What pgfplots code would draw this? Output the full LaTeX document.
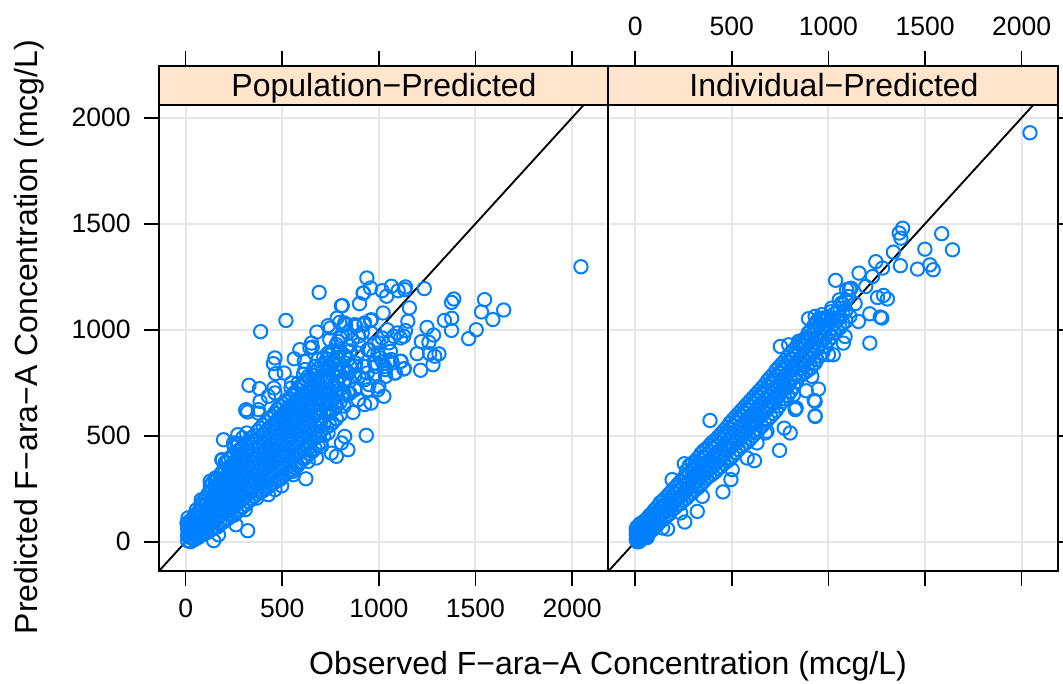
\documentclass[border=0pt]{standalone}
\usepackage{pgfplots}
\pgfplotsset{compat=1.18}
\usepackage{fontspec}
\setmainfont{Liberation Sans}
\definecolor{ptblue}{HTML}{0080FF}
\definecolor{stripc}{HTML}{FFE5CC}
\definecolor{gridc}{HTML}{E6E6E6}
\pgfplotsset{
  base/.style={scale only axis,anchor=south west,
    /pgf/number format/assume math mode=true,
    /pgf/number format/1000 sep={},
    tick align=outside,
    major tick length=11.25pt,
    every tick/.style={black,line width=1.2pt},
    axis line style={black,line width=1.5pt},
    tick label style={font=\fontsize{19.9}{22}\selectfont},
    xtick={0,500,1000,1500,2000},
    ytick={0,500,1000,1500,2000},
  },
  panel/.style={base,width=336.75pt,height=349.5pt,
    ymin=-138,ymax=2060,
    grid=major,
    major grid style={gridc,line width=1.5pt},
    xticklabel style={yshift=-6.5pt},
    yticklabel style={xshift=-6.5pt},
  },
  strip/.style={base,width=336.75pt,height=29.25pt,ymin=0,ymax=1,ytick=\empty,
    axis background/.style={fill=stripc},
    xtick pos=top,
    xticklabel pos=top,
    xticklabel style={yshift=8pt},
  },
  pts/.style={only marks,mark=o,mark size=5pt,
    mark options={draw=ptblue,line width=1.5pt,fill=none},draw=ptblue},
}
\begin{document}
\begin{tikzpicture}
\path[use as bounding box] (0,0) rectangle (797.25pt,512.25pt);
% ---------- Population-Predicted
\begin{axis}[panel,at={(119.25pt,84pt)},xmin=-138,xmax=2186,xtick pos=bottom,ytick pos=left]
\addplot[pts] coordinates {
(2046,1297)(938,1244)(957,1197)(918,1173)(900,1123)(811,1114)(1017,1184)(1065,1205)(1040,1158)(1100,1184)
(1138,1202)(1134,1189)(1235,1194)(1158,1103)(1022,1079)(1150,1040)(1138,996)(1249,1011)(1283,975)(1220,944)
(1259,941)(1198,887)(1263,887)(1311,886)(1289,875)(1280,835)(1216,809)(1129,815)(1112,851)(1388,1145)
(1376,1129)(1339,1044)(1377,1054)(1376,997)(1547,1142)(1531,1084)(1590,1048)(1646,1093)(1504,1000)(1465,958)
(828,1024)(880,1016)(923,1024)(957,1044)(811,969)(863,953)(914,985)(1017,961)(1043,1000)(1077,969)
(1112,961)(1129,969)(1052,938)(1095,985)(1000,938)(846,922)(949,906)(897,930)(794,890)(828,875)
(880,843)(923,827)(974,882)(1017,851)(1060,898)(1069,843)(1086,796)(1035,812)(983,827)(940,796)
(897,780)(846,796)(820,749)(949,741)(1000,733)(1035,780)(1052,851)(1009,867)
(388,991)(519,1044)(691,1176)(806,1113)(921,1173)(679,989)(737,1019)(749,1008)(784,1055)(823,1032)
(797,1035)(591,906)(651,937)(655,918)(643,914)(562,863)(462,867)(454,840)(466,793)(510,796)
(328,738)(382,722)(457,725)(462,702)(548,749)(545,725)(385,662)(428,686)(311,620)(321,612)
(376,623)(479,623)(617,812)(614,851)(686,859)(737,890)(746,953)(789,945)(875,1024)(926,1032)
(960,1047)(892,969)(840,985)(960,985)(978,937)(789,890)(720,843)(668,827)(634,780)(583,749)
(565,702)(617,686)(668,764)(720,780)(772,812)(840,859)(892,890)(943,906)(995,890)(875,827)
(823,764)(772,733)(720,702)(686,654)(634,639)(600,623)(548,623)(875,780)(926,827)(978,843)
(926,764)(875,717)(840,702)(806,686)(772,654)(737,623)(978,780)(1029,827)(1064,859)(1081,796)
(1115,851)(1132,816)(995,717)(1026,686)(960,654)(926,647)(866,610)(943,717)(892,670)
(935,502)(840,434)(780,403)(754,418)(823,497)(806,466)(737,513)(703,450)(677,395)(634,379)
(622,297)(557,316)(557,332)(497,264)(462,246)(428,222)(368,206)(308,151)(260,80)(321,52)
(170,33)(145,5)(196,481)(270,505)(316,513)(248,466)(273,458)(187,387)(213,371)(127,285)
(153,300)(81,198)(12,112)(7,88)(313,623)(376,607)(462,607)
(10,5)(10,30)(10,60)(10,85)(25,0)(25,20)(25,50)(25,80)(25,100)
(45,10)(45,30)(45,60)(45,95)(45,125)(65,20)(65,45)(65,75)(65,110)(65,140)
(90,35)(90,60)(90,95)(90,130)(90,165)(90,190)(115,45)(115,80)(115,115)(115,150)(115,185)(115,225)
(140,60)(140,100)(140,135)(140,170)(140,205)(140,245)(140,280)
(165,70)(165,115)(165,155)(165,190)(165,230)(165,265)(165,300)
(190,90)(190,130)(190,170)(190,210)(190,250)(190,285)(190,330)(190,385)
(220,110)(220,150)(220,190)(220,230)(220,270)(220,310)(220,350)(220,390)
(250,125)(250,170)(250,210)(250,250)(250,290)(250,330)(250,370)(250,410)(250,450)
(280,150)(280,190)(280,235)(280,275)(280,315)(280,355)(280,395)(280,435)
(310,175)(310,215)(310,255)(310,300)(310,340)(310,380)(310,420)(310,460)
(340,200)(340,240)(340,285)(340,325)(340,365)(340,405)(340,445)(340,490)
(370,225)(370,270)(370,310)(370,350)(370,395)(370,435)(370,475)(370,520)
(400,240)(400,290)(400,335)(400,380)(400,420)(400,465)(400,505)(400,550)
(430,260)(430,310)(430,355)(430,400)(430,445)(430,490)(430,535)(430,580)
(460,280)(460,330)(460,380)(460,425)(460,470)(460,515)(460,560)(460,605)
(490,295)(490,350)(490,400)(490,450)(490,495)(490,540)(490,590)(490,640)
(520,320)(520,370)(520,420)(520,470)(520,520)(520,565)(520,615)(520,660)
(550,340)(550,395)(550,445)(550,495)(550,545)(550,590)(550,640)(550,690)
(580,360)(580,415)(580,470)(580,520)(580,570)(580,620)(580,670)(580,720)
(610,390)(610,440)(610,495)(610,545)(610,595)(610,645)(610,695)(610,745)(610,790)
(640,415)(640,465)(640,520)(640,570)(640,620)(640,670)(640,720)(640,770)
(670,440)(670,490)(670,545)(670,595)(670,645)(670,695)(670,750)(670,800)
(700,470)(700,520)(700,570)(700,625)(700,675)(700,725)(700,780)(700,830)
(730,540)(730,600)(730,650)(730,700)(730,755)(730,810)(730,860)
(760,560)(760,620)(760,680)(760,730)(760,790)(760,840)(760,900)
(800,600)(800,660)(800,720)(800,780)(800,840)(800,900)(800,960)
(35,15)(35,40)(35,70)(35,100)(55,25)(55,50)(55,85)(55,115)(55,150)
(78,30)(78,55)(78,85)(78,120)(78,150)(78,175)(102,40)(102,70)(102,105)(102,140)(102,175)(102,205)
(128,55)(128,90)(128,125)(128,160)(128,195)(128,235)(128,265)
(152,70)(152,105)(152,145)(152,180)(152,220)(152,255)(152,290)
(178,85)(178,125)(178,160)(178,200)(178,240)(178,275)(178,315)
(205,100)(205,140)(205,180)(205,220)(205,260)(205,300)(205,340)(205,375)
(235,125)(235,160)(235,200)(235,240)(235,280)(235,320)(235,360)(235,400)
(265,140)(265,180)(265,225)(265,265)(265,305)(265,345)(265,385)(265,425)(265,465)
(295,165)(295,205)(295,245)(295,285)(295,325)(295,365)(295,405)(295,450)(295,490)
(325,190)(325,230)(325,270)(325,310)(325,350)(325,390)(325,430)(325,470)
(355,215)(355,255)(355,295)(355,335)(355,375)(355,415)(355,460)(355,500)
(385,235)(385,280)(385,320)(385,365)(385,410)(385,450)(385,490)(385,535)
(415,250)(415,300)(415,345)(415,390)(415,430)(415,475)(415,520)(415,565)
(445,270)(445,320)(445,365)(445,410)(445,455)(445,500)(445,545)(445,590)
(475,290)(475,340)(475,390)(475,435)(475,480)(475,530)(475,575)(475,625)
(505,310)(505,360)(505,410)(505,460)(505,510)(505,555)(505,600)(505,650)
(535,330)(535,380)(535,430)(535,480)(535,530)(535,580)(535,625)(535,675)
(565,350)(565,405)(565,455)(565,510)(565,560)(565,605)(565,655)(565,705)
(595,375)(595,425)(595,480)(595,530)(595,585)(595,630)(595,685)(595,735)
(625,400)(625,455)(625,505)(625,555)(625,605)(625,660)(625,710)(625,760)
(655,425)(655,480)(655,530)(655,580)(655,635)(655,685)(655,735)(655,785)
(685,455)(685,505)(685,560)(685,610)(685,660)(685,710)(685,765)(685,815)
(715,500)(715,555)(715,610)(715,665)(715,715)(715,765)(715,820)(715,870)
(745,550)(745,610)(745,665)(745,715)(745,775)(745,825)(745,880)
(780,580)(780,640)(780,700)(780,755)(780,815)(780,870)(780,930)
(820,640)(820,700)(820,760)(820,820)(820,880)(850,700)(850,760)(850,830)(850,900)
};
\addplot[black,line width=1.4pt] coordinates {(-300,-300)(2400,2400)};
\end{axis}
\begin{axis}[strip,at={(119.25pt,433.5pt)},xmin=-138,xmax=2186,xticklabels={}]
\end{axis}
% ---------- Individual-Predicted
\begin{axis}[panel,at={(456pt,84pt)},width=337.5pt,xmin=-141,xmax=2188,xtick pos=bottom,xticklabels={},ytick pos=right,yticklabels={}]
\addplot[pts] coordinates {
(2043,1929)(387,572)(254,368)(191,293)(321,143)(256,93)(167,60)(454,235)(495,293)(617,382)
(747,431)(802,513)(771,536)(673,513)(682,521)(630,466)(828,623)(931,591)(931,662)(833,631)
(579,395)(502,340)(347,214)(235,136)(141,65)
(1384,1479)(1366,1456)(1375,1432)(1336,1366)(1245,1321)(1280,1291)(1372,1302)(1461,1286)(1499,1380)(1586,1453)
(1642,1377)(1525,1306)(1542,1283)(1158,1267)(1228,1251)(1037,1233)(1193,1204)(1108,1192)(1117,1196)(1094,1189)
(1254,1152)(1285,1162)(1305,1145)(1214,1075)(1268,1060)(1276,1055)(1155,1039)(1214,937)(1138,1123)(1056,1141)
(897,1052)(931,1063)(965,1071)(1017,1102)(1068,1126)(1103,1157)(1111,1063)(1077,937)(1086,968)(1025,882)
(1000,882)(931,843)(914,780)(948,720)(885,712)(926,667)(819,693)(828,626)(931,594)(751,921)(794,929)(845,945)
(10,0)(10,25)(10,50)(10,70)(25,5)(25,30)(25,60)(25,85)(50,20)(50,45)(50,75)(50,100)
(75,45)(75,70)(75,100)(75,125)(100,70)(100,95)(100,125)(100,150)
(130,95)(130,125)(130,155)(130,185)(160,120)(160,150)(160,180)(160,210)
(190,150)(190,180)(190,210)(190,240)(220,175)(220,205)(220,240)(220,270)
(250,195)(250,230)(250,265)(250,300)(280,220)(280,255)(280,290)(280,325)(280,360)
(310,245)(310,280)(310,315)(310,350)(310,380)(340,270)(340,305)(340,345)(340,385)(340,415)
(370,300)(370,335)(370,375)(370,410)(370,440)(400,320)(400,360)(400,400)(400,440)(400,470)
(430,345)(430,385)(430,425)(430,465)(430,495)(460,370)(460,415)(460,455)(460,495)(460,525)
(490,390)(490,440)(490,490)(490,530)(490,560)(520,420)(520,470)(520,515)(520,560)(520,590)
(550,450)(550,500)(550,545)(550,590)(550,620)(580,470)(580,525)(580,580)(580,620)(580,650)
(610,500)(610,555)(610,605)(610,650)(610,680)(640,530)(640,585)(640,640)(640,680)(640,710)
(670,560)(670,610)(670,670)(670,710)(670,740)(700,590)(700,640)(700,700)(700,745)(700,775)
(730,620)(730,675)(730,730)(730,780)(730,810)(760,660)(760,710)(760,760)(760,810)(760,840)
(790,690)(790,740)(790,795)(790,845)(790,875)(820,730)(820,775)(820,825)(820,875)(820,905)
(850,780)(850,815)(850,860)(850,905)(850,935)(880,800)(880,850)(880,890)(880,940)(880,960)
(910,820)(910,880)(910,925)(910,975)(910,1000)(940,860)(940,910)(940,960)(940,1010)(940,1040)
(970,890)(970,950)(970,990)(970,1040)(970,1055)(1000,950)(1000,985)(1000,1030)(1000,1060)
(1030,985)(1030,1030)(1030,1075)(1060,1010)(1060,1060)(1060,1100)(1090,1040)(1090,1090)(1090,1140)
(5,10)(5,35)(5,60)(18,0)(18,15)(18,40)(18,70)(38,15)(38,35)(38,65)(38,90)
(62,20)(62,30)(62,55)(62,85)(62,110)(88,55)(88,80)(88,110)(88,135)(115,80)(115,110)(115,140)(115,165)
(145,105)(145,135)(145,165)(145,195)(175,130)(175,165)(175,195)(175,225)(205,160)(205,190)(205,225)(205,255)
(235,180)(235,215)(235,250)(235,285)(265,205)(265,240)(265,275)(265,310)(265,335)
(295,230)(295,265)(295,300)(295,335)(295,370)(325,255)(325,290)(325,330)(325,365)(325,395)
(355,285)(355,320)(355,360)(355,395)(355,430)(385,310)(385,345)(385,385)(385,425)(385,455)
(415,330)(415,370)(415,410)(415,450)(415,480)(445,355)(445,400)(445,440)(445,480)(445,510)
(475,380)(475,430)(475,470)(475,510)(475,540)(505,405)(505,455)(505,500)(505,545)(505,575)
(535,435)(535,485)(535,530)(535,575)(535,605)(565,460)(565,510)(565,560)(565,605)(565,635)
(595,485)(595,540)(595,590)(595,635)(595,665)(625,515)(625,570)(625,620)(625,665)(625,695)
(655,545)(655,595)(655,655)(655,695)(655,725)(685,575)(685,625)(685,685)(685,730)(685,760)
(715,605)(715,655)(715,715)(715,760)(715,790)(745,640)(745,690)(745,745)(745,795)(745,825)
(775,675)(775,725)(775,775)(775,825)(775,855)(805,710)(805,760)(805,810)(805,860)(805,890)
(835,755)(835,795)(835,840)(835,890)(835,920)(865,790)(865,830)(865,875)(865,920)(865,950)
(895,810)(895,865)(895,905)(895,955)(895,985)(925,840)(925,895)(925,940)(925,990)(925,1020)
(955,875)(955,930)(955,975)(955,1025)(955,1050)(985,920)(985,965)(985,1010)(985,1050)
(1015,965)(1015,1005)(1015,1050)(1015,1085)(1045,1000)(1045,1045)(1045,1085)(1075,1030)(1075,1075)(1075,1120)
};
\addplot[black,line width=1.4pt] coordinates {(-300,-300)(2400,2400)};
\end{axis}
\begin{axis}[strip,at={(456pt,433.5pt)},width=337.5pt,xmin=-141,xmax=2188]
\end{axis}
% ---------- strip bottom rule
\draw[black,line width=1.5pt] (119.25pt,433.5pt)--(793.5pt,433.5pt);
% ---------- text
\node[font=\fontsize{24}{26}\selectfont,anchor=base] at (288pt,439.5pt) {Population−Predicted};
\node[font=\fontsize{24}{26}\selectfont,anchor=base] at (625.5pt,439.5pt) {Individual−Predicted};
\node[font=\fontsize{24}{26}\selectfont] at (456pt,12.5pt) {Observed F−ara−A Concentration (mcg/L)};
\node[font=\fontsize{24}{26}\selectfont,rotate=90] at (22pt,259.5pt) {Predicted F−ara−A Concentration (mcg/L)};
\end{tikzpicture}
\end{document}
